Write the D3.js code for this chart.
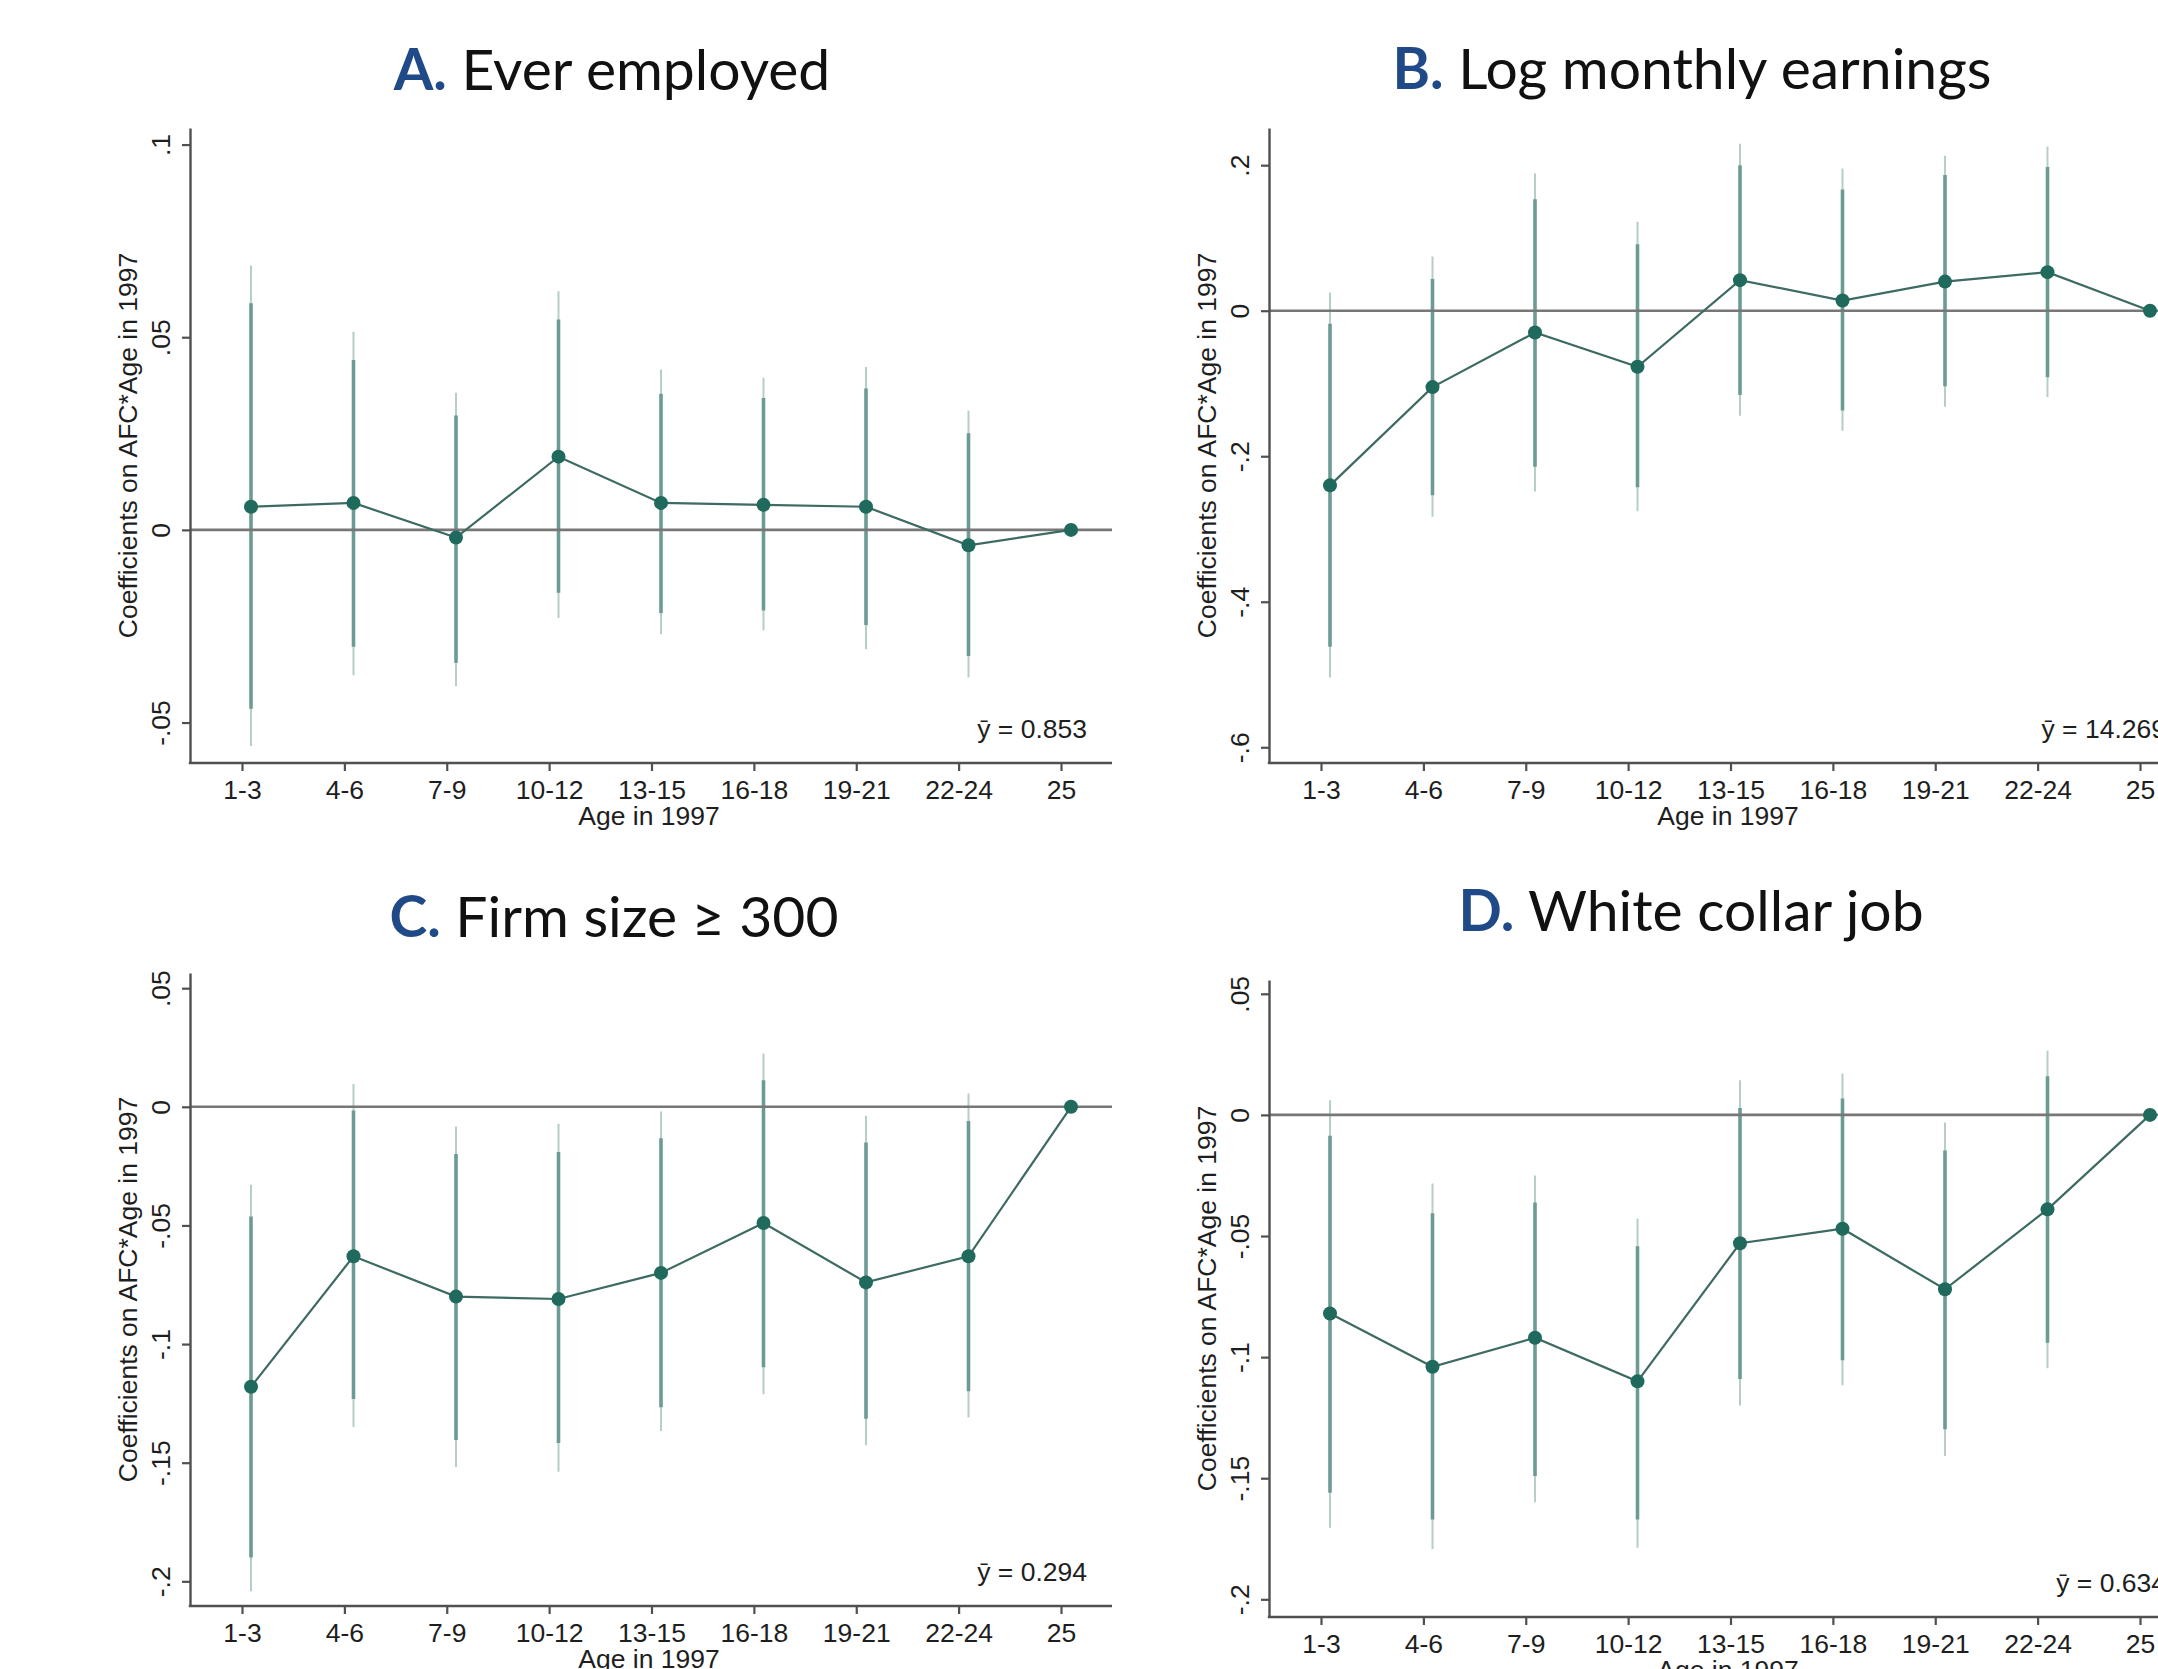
<!DOCTYPE html>
<html>
<head>
<meta charset="utf-8">
<script src="https://cdn.jsdelivr.net/npm/d3@7"></script>
<style>
  html, body { margin: 0; padding: 0; background: #fff; overflow: hidden; }
  svg { display: block; }
  .tick text { font-family: "Liberation Sans", Arial, sans-serif; font-size: 26.5px; fill: #1e1e1e; }
  .lbl { font-family: "Liberation Sans", Arial, sans-serif; font-size: 26.5px; fill: #1e1e1e; }
  .ttl { font-family: Lato, "Open Sans", sans-serif; font-size: 57px; fill: #111; }
</style>
</head>
<body>
<script>
var width = 2158;
var height = 1669;

// age groups in 1997
var ages = ["1-3", "4-6", "7-9", "10-12", "13-15", "16-18", "19-21", "22-24", "25"];

// A. Ever employed
var coefA    = [0.006, 0.007, -0.002, 0.019, 0.007, 0.0065, 0.006, -0.004, 0];
var innerHiA = [0.0588, 0.0441, 0.0297, 0.0546, 0.0353, 0.0342, 0.0367, 0.0251, null];
var innerLoA = [-0.0464, -0.0303, -0.0345, -0.0163, -0.0216, -0.0209, -0.0247, -0.0327, null];
var outerHiA = [0.0686, 0.0514, 0.0356, 0.0619, 0.0416, 0.0395, 0.0423, 0.0309, null];
var outerLoA = [-0.0561, -0.0377, -0.0405, -0.0229, -0.0271, -0.0261, -0.031, -0.0383, null];

// B. Log monthly earnings
var coefB    = [-0.24, -0.105, -0.03, -0.077, 0.042, 0.014, 0.040, 0.053, 0];
var innerHiB = [-0.018, 0.0435, 0.1533, 0.0914, 0.1998, 0.1666, 0.1865, 0.1976, null];
var innerLoB = [-0.462, -0.2536, -0.2145, -0.2425, -0.1157, -0.1371, -0.1039, -0.0914, null];
var outerHiB = [0.025, 0.0745, 0.1887, 0.1224, 0.2293, 0.1953, 0.2130, 0.2256, null];
var outerLoB = [-0.504, -0.283, -0.2484, -0.2757, -0.1445, -0.1651, -0.1319, -0.1187, null];

// C. Firm size >= 300
var coefC    = [-0.118, -0.063, -0.080, -0.081, -0.070, -0.049, -0.074, -0.063, 0];
var innerHiC = [-0.0462, -0.0016, -0.0199, -0.019, -0.0132, 0.0112, -0.015, -0.006, null];
var innerLoC = [-0.190, -0.1232, -0.1404, -0.1417, -0.1266, -0.1098, -0.1315, -0.1199, null];
var outerHiC = [-0.0328, 0.0096, -0.0083, -0.0071, -0.002, 0.0225, -0.0038, 0.0056, null];
var outerLoC = [-0.2042, -0.135, -0.1518, -0.1538, -0.1366, -0.1212, -0.1426, -0.131, null];

// D. White collar job
var coefD    = [-0.082, -0.104, -0.092, -0.110, -0.053, -0.047, -0.072, -0.039, 0];
var innerHiD = [-0.0086, -0.0406, -0.0362, -0.0542, 0.0029, 0.0068, -0.0147, 0.016, null];
var innerLoD = [-0.156, -0.167, -0.1491, -0.167, -0.109, -0.1013, -0.1298, -0.0941, null];
var outerHiD = [0.0061, -0.0283, -0.025, -0.0428, 0.0143, 0.0171, -0.0031, 0.0265, null];
var outerLoD = [-0.1704, -0.1792, -0.1599, -0.1787, -0.120, -0.1116, -0.1408, -0.1046, null];

// y axis ticks
var ticksA = [-0.05, 0, 0.05, 0.1];
var ticksB = [-0.6, -0.4, -0.2, 0, 0.2];
var ticksC = [-0.2, -0.15, -0.1, -0.05, 0, 0.05];
var ticksD = [-0.2, -0.15, -0.1, -0.05, 0, 0.05];

var meanLabels = ["0.853", "14.269", "0.294", "0.634"];
var letters = ["A.", "B.", "C.", "D."];
var titles = ["Ever employed", "Log monthly earnings", "Firm size \u2265 300", "White collar job"];

var panels = [
  {coef: coefA, ihi: innerHiA, ilo: innerLoA, ohi: outerHiA, olo: outerLoA, ticks: ticksA, dom: [-0.0605, 0.1043],
   left: 190, top: 128, bottom: 763, titleX: 612, titleY: 90},
  {coef: coefB, ihi: innerHiB, ilo: innerLoB, ohi: outerHiB, olo: outerLoB, ticks: ticksB, dom: [-0.6216, 0.2511],
   left: 1269, top: 128, bottom: 763, titleX: 1692, titleY: 89},
  {coef: coefC, ihi: innerHiC, ilo: innerLoC, ohi: outerHiC, olo: outerLoC, ticks: ticksC, dom: [-0.2104, 0.0564],
   left: 190, top: 973, bottom: 1606, titleX: 614, titleY: 937},
  {coef: coefD, ihi: innerHiD, ilo: innerLoD, ohi: outerHiD, olo: outerLoD, ticks: ticksD, dom: [-0.2073, 0.0557],
   left: 1269, top: 980, bottom: 1617, titleX: 1691, titleY: 931}
];

var axisW = 922;

var svg = d3.select("body").append("svg")
    .attr("width", width)
    .attr("height", height);

// stata style: drop the leading zero
function fmt(v){
    if (v === 0) return "0";
    return String(+v.toFixed(3)).replace("0.", ".");
}

panels.forEach(function(p, k){
    var g = svg.append("g");

    var x = d3.scalePoint().domain(ages).range([p.left + 61, p.left + 881]);
    var xt = d3.scalePoint().domain(ages).range([p.left + 52, p.left + 871]);
    var y = d3.scaleLinear().domain(p.dom).range([p.bottom, p.top]);

    var rows = ages.map(function(a, i){
        return {age: a, c: p.coef[i], ihi: p.ihi[i], ilo: p.ilo[i], ohi: p.ohi[i], olo: p.olo[i]};
    });

    // title
    var t = g.append("text").attr("class", "ttl")
        .attr("x", p.titleX).attr("y", p.titleY)
        .attr("text-anchor", "middle");
    t.append("tspan").attr("font-weight", "bold").attr("fill", "#1f4a87").text(letters[k]);
    t.append("tspan").text(" " + titles[k]);

    // outer (wider) intervals
    var ci = rows.filter(function(d){ return d.ohi !== null; });
    g.selectAll(".outer").data(ci).enter().append("line")
        .attr("x1", function(d){ return x(d.age); })
        .attr("x2", function(d){ return x(d.age); })
        .attr("y1", function(d){ return y(d.olo); })
        .attr("y2", function(d){ return y(d.ohi); })
        .attr("stroke", "#b6cec9")
        .attr("stroke-width", 2);

    // inner intervals
    g.selectAll(".inner").data(ci).enter().append("line")
        .attr("x1", function(d){ return x(d.age); })
        .attr("x2", function(d){ return x(d.age); })
        .attr("y1", function(d){ return y(d.ilo); })
        .attr("y2", function(d){ return y(d.ihi); })
        .attr("stroke", "#6c9b93")
        .attr("stroke-width", 3.6);

    // zero line
    g.append("line")
        .attr("x1", p.left).attr("x2", p.left + axisW)
        .attr("y1", y(0)).attr("y2", y(0))
        .attr("stroke", "#777")
        .attr("stroke-width", 2.6);

    // connecting line
    var line = d3.line()
        .x(function(d){ return x(d.age); })
        .y(function(d){ return y(d.c); });
    g.append("path").datum(rows)
        .attr("d", line)
        .attr("fill", "none")
        .attr("stroke", "#3d6a62")
        .attr("stroke-width", 2.2);

    // markers
    g.selectAll(".pt").data(rows).enter().append("circle")
        .attr("cx", function(d){ return x(d.age); })
        .attr("cy", function(d){ return y(d.c); })
        .attr("r", 7)
        .attr("fill", "#1f6a5c");

    // y axis
    var yAxis = g.append("g")
        .attr("transform", "translate(" + p.left + ",0)")
        .call(d3.axisLeft(y).tickValues(p.ticks).tickFormat(fmt).tickSize(8).tickSizeOuter(0));
    yAxis.select(".domain").attr("stroke", "#505050").attr("stroke-width", 2.4);
    yAxis.selectAll(".tick line").attr("stroke", "#505050").attr("stroke-width", 2.2);
    yAxis.selectAll(".tick text")
        .attr("transform", "rotate(-90)")
        .attr("x", 0).attr("y", -20).attr("dy", null)
        .attr("text-anchor", "middle");

    // x axis
    var xAxis = g.append("g")
        .attr("transform", "translate(0," + p.bottom + ")")
        .call(d3.axisBottom(xt).tickSize(8).tickSizeOuter(0));
    xAxis.select(".domain").remove();
    xAxis.selectAll(".tick line").attr("stroke", "#505050").attr("stroke-width", 2.2);
    xAxis.selectAll(".tick text").attr("y", 36).attr("dy", null);
    g.append("line")
        .attr("x1", p.left - 1.2).attr("x2", p.left + axisW)
        .attr("y1", p.bottom).attr("y2", p.bottom)
        .attr("stroke", "#505050").attr("stroke-width", 2.4);

    // axis titles
    g.append("text").attr("class", "lbl")
        .attr("x", p.left + 459).attr("y", p.bottom + 62)
        .attr("text-anchor", "middle")
        .text("Age in 1997");
    g.append("text").attr("class", "lbl")
        .attr("transform", "translate(" + (p.left - 53) + "," + ((p.top + p.bottom) / 2) + ") rotate(-90)")
        .attr("text-anchor", "middle")
        .text("Coefficients on AFC*Age in 1997");

    // mean of outcome
    g.append("text").attr("class", "lbl")
        .attr("x", p.left + axisW - 25).attr("y", p.bottom - 25)
        .attr("text-anchor", "end")
        .text("\u0233 = " + meanLabels[k]);
});
</script>
</body>
</html>
